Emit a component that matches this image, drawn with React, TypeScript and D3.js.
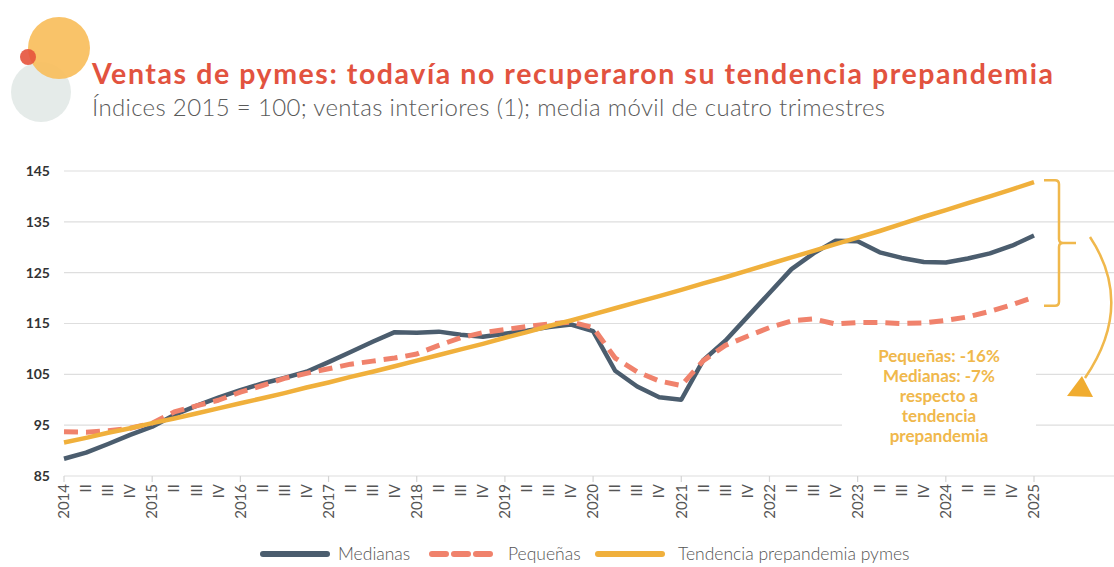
import React from 'react'
import * as d3 from 'd3'

// Índices 2015 = 100, media móvil de cuatro trimestres, 2014 I a 2025 I
const years = ['2014', '2015', '2016', '2017', '2018', '2019', '2020', '2021', '2022', '2023', '2024', '2025']
const quarterNames = ['I', 'II', 'III', 'IV']

const medianas = [
  88.4, 89.6, 91.3, 93.1, 94.7, 97.0, 98.8, 100.4, 101.9, 103.2, 104.3, 105.5,
  107.4, 109.4, 111.4, 113.3, 113.2, 113.4, 112.8, 112.4, 113.0, 113.6, 114.3, 114.8,
  113.5, 105.7, 102.6, 100.5, 100.0, 107.8, 111.6, 116.3, 121.0, 125.7, 128.8, 131.3,
  131.2, 129.0, 127.9, 127.1, 127.0, 127.8, 128.8, 130.3, 132.3
]

const pequenas = [
  93.7, 93.6, 93.9, 94.4, 95.4, 97.6, 98.8, 99.9, 101.5, 102.8, 104.2, 105.2,
  106.1, 107.0, 107.6, 108.2, 109.0, 110.7, 112.2, 113.2, 113.8, 114.4, 114.9, 115.3,
  114.2, 108.2, 105.5, 103.7, 102.8, 107.7, 110.7, 112.5, 114.2, 115.5, 115.9, 114.9,
  115.2, 115.2, 115.0, 115.1, 115.6, 116.3, 117.4, 118.7, 120.2
]

const tendencia = [
  91.6, 92.5, 93.5, 94.4, 95.4, 96.3, 97.3, 98.3, 99.3, 100.3, 101.3, 102.4,
  103.4, 104.5, 105.5, 106.6, 107.7, 108.8, 109.9, 111.0, 112.2, 113.3, 114.5, 115.6,
  116.8, 118.0, 119.2, 120.4, 121.6, 122.9, 124.1, 125.4, 126.7, 128.0, 129.3, 130.6,
  131.9, 133.2, 134.6, 136.0, 137.3, 138.7, 140.0, 141.4, 142.8
]

const yTicks = [85, 95, 105, 115, 125, 135, 145]

const annotationLines = ['Pequeñas: -16%', 'Medianas: -7%', 'respecto a', 'tendencia', 'prepandemia']

// categorías trimestrales: "2014 I", "2014 II", ... "2025 I"
const quarters: string[] = []
years.forEach(yr => quarterNames.forEach(q => quarters.push(`${yr} ${q}`)))
quarters.splice(medianas.length)

const series = [
  { name: 'Medianas', values: medianas, color: '#4b5d6e', dash: null, width: 4.5 },
  { name: 'Pequeñas', values: pequenas, color: '#f0826c', dash: '14 8', width: 5 },
  { name: 'Tendencia prepandemia pymes', values: tendencia, color: '#f0b03c', dash: null, width: 4.5 }
]

const W = 1114
const H = 567
const font = 'Lato, "Open Sans", sans-serif'
const gold = '#f0b84c'

const App = () => {
  const x = d3.scalePoint<string>().domain(quarters).range([64, 1034])
  const y = d3.scaleLinear().domain([85, 145]).range([476, 171])

  const line = d3.line<number>()
    .x((d, i) => x(quarters[i]) as number)
    .y(d => y(d))

  const xEnd = x(quarters[quarters.length - 1]) as number
  const bTop = y(143.2)
  const bBot = y(118.5)
  const bMid = (bTop + bBot) / 2
  const bx = xEnd + 25

  const legendY = 554
  const legend = [
    { x: 263, tx: 338 },
    { x: 432, tx: 508 },
    { x: 598, tx: 678 }
  ]

  return (
    <div style={{ position: 'fixed', left: 0, top: 0 }}>
      <svg width={W} height={H} style={{ display: 'block', background: '#fff' }}>
        {/* logo */}
        <circle cx={41} cy={92} r={30} fill='#e5ebe9' />
        <circle cx={59} cy={48} r={31} fill='#f8be5c' opacity={0.92} />
        <circle cx={28} cy={57} r={8} fill='#e5533c' opacity={0.9} />

        <text x={92} y={84} fill='#e2533f' fontFamily={font} fontWeight={700} fontSize={28.5}
          textLength={961} lengthAdjust='spacing'>
          Ventas de pymes: todavía no recuperaron su tendencia prepandemia
        </text>
        <text x={92} y={116} fill='#5a5a5a' fontFamily={font} fontWeight={300} fontSize={24}
          textLength={793} lengthAdjust='spacing'>
          Índices 2015 = 100; ventas interiores (1); media móvil de cuatro trimestres
        </text>

        {/* rejilla y eje Y */}
        {yTicks.map(t => (
          <g key={t}>
            <line x1={64} x2={W} y1={y(t)} y2={y(t)} stroke='#dedede' strokeWidth={1.2} />
            <text x={50} y={y(t)} dy='0.35em' textAnchor='end' fill='#333' fontFamily={font}
              fontWeight={700} fontSize={14}>{t}</text>
          </g>
        ))}

        {/* eje X */}
        {quarters.map(q => {
          const px = x(q) as number
          const [yr, qn] = q.split(' ')
          return (
            <g key={q}>
              {qn === 'I' && <line x1={px} x2={px} y1={476} y2={482} stroke='#d4d4d4' strokeWidth={1.2} />}
              <text transform={`translate(${px},${484}) rotate(-90)`} dy='0.35em' textAnchor='end'
                fill='#555' fontFamily={font} fontSize={15}>
                {qn === 'I' ? yr : qn}
              </text>
            </g>
          )
        })}

        {/* series */}
        {series.map(s => (
          <path key={s.name} d={line(s.values) as string} fill='none' stroke={s.color}
            strokeWidth={s.width} strokeDasharray={s.dash ?? undefined} strokeLinejoin='round' />
        ))}

        {/* llave y flecha */}
        <path d={`M${bx - 15},${bTop} H${bx - 4} Q${bx},${bTop} ${bx},${bTop + 4} V${bMid - 4}
          Q${bx},${bMid} ${bx + 4},${bMid} H${bx + 17} M${bx + 4},${bMid} Q${bx},${bMid} ${bx},${bMid + 4}
          V${bBot - 4} Q${bx},${bBot} ${bx - 4},${bBot} H${bx - 15}`}
          fill='none' stroke={gold} strokeWidth={2.5} />
        <path d='M1090,237 Q1135,305 1085,378' fill='none' stroke={gold} strokeWidth={2.5} />
        <path d='M1082,376 L1093,397 L1067,396 Z' fill='#f0ac30' />

        {/* anotación */}
        <rect x={842} y={345} width={194} height={102} fill='#fff' />
        {annotationLines.map((l, i) => (
          <text key={l} x={939} y={356 + i * 20} dy='0.35em' textAnchor='middle' fill={gold}
            fontFamily={font} fontWeight={700} fontSize={17}>{l}</text>
        ))}

        {/* leyenda */}
        {series.map((s, i) => (
          <g key={s.name}>
            <line x1={legend[i].x} x2={legend[i].x + 64} y1={legendY} y2={legendY} stroke={s.color}
              strokeWidth={6} strokeLinecap='round'
              strokeDasharray={s.dash ? '14 8' : undefined} />
            <text x={legend[i].tx} y={legendY} dy='0.35em' fill='#555' fontFamily={font}
              fontWeight={300} fontSize={17.5}>{s.name}</text>
          </g>
        ))}
      </svg>
    </div>
  )
}

export default App
